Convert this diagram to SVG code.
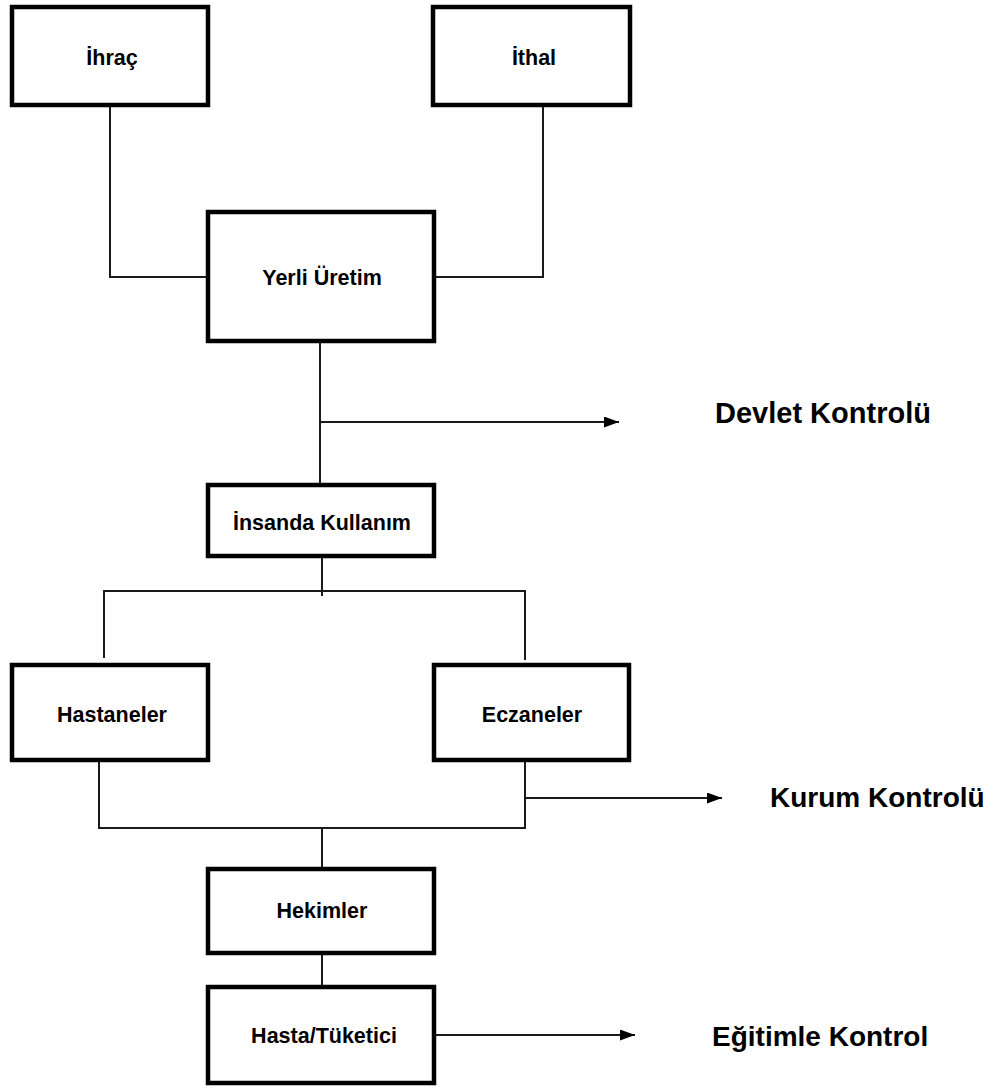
<svg xmlns="http://www.w3.org/2000/svg" width="1000" height="1088" viewBox="0 0 1000 1088">
<style>
.box{fill:#fff;stroke:#000;stroke-width:4.5}
.lbl{font-family:"Liberation Sans",Arial,sans-serif;font-weight:bold;font-size:21.5px;fill:#000;text-anchor:middle}
.side{font-family:"Liberation Sans",Arial,sans-serif;font-weight:bold;font-size:28px;fill:#000}
.ln{fill:none;stroke:#1a1a1a;stroke-width:2}
</style>
<defs>
<marker id="arr" viewBox="0 0 15 11" refX="15" refY="5.5" markerWidth="15" markerHeight="11" markerUnits="userSpaceOnUse" orient="auto">
<path d="M0,0 L15,5.5 L0,11 Z" fill="#000"/>
</marker>
</defs>
<rect width="1000" height="1088" fill="#fff"/>
<g id="connectors">
<polyline class="ln" points="110,107 110,277 206,277"/>
<polyline class="ln" points="543,107 543,277 436,277"/>
<line class="ln" x1="320" y1="343" x2="320" y2="490"/>
<line class="ln" x1="320" y1="422" x2="619" y2="422" marker-end="url(#arr)"/>
<line class="ln" x1="322" y1="558" x2="322" y2="596"/>
<polyline class="ln" points="104,658 104,591 525,591 525,660"/>
<polyline class="ln" points="99,762 99,828 525,828 525,762"/>
<line class="ln" x1="525" y1="798" x2="722" y2="798" marker-end="url(#arr)"/>
<line class="ln" x1="322" y1="828" x2="322" y2="867"/>
<line class="ln" x1="322" y1="955" x2="322" y2="992"/>
<line class="ln" x1="436" y1="1035" x2="635" y2="1035" marker-end="url(#arr)"/>
</g>
<g id="ihrac"><rect class="box" x="12" y="7" width="196" height="98"/><text class="lbl" x="112" y="65">İhraç</text></g>
<g id="ithal"><rect class="box" x="433" y="7" width="197" height="98"/><text class="lbl" x="534" y="65">İthal</text></g>
<g id="yerli-uretim"><rect class="box" x="208" y="212" width="226" height="129"/><text class="lbl" x="322" y="285">Yerli Üretim</text></g>
<g id="insanda-kullanim"><rect class="box" x="208" y="485" width="226" height="71"/><text class="lbl" x="322" y="530">İnsanda Kullanım</text></g>
<g id="hastaneler"><rect class="box" x="12" y="665" width="196" height="95"/><text class="lbl" x="112" y="722">Hastaneler</text></g>
<g id="eczaneler"><rect class="box" x="434" y="665" width="195" height="95"/><text class="lbl" x="532" y="722">Eczaneler</text></g>
<g id="hekimler"><rect class="box" x="208" y="869" width="226" height="84"/><text class="lbl" x="322" y="918">Hekimler</text></g>
<g id="hasta-tuketici"><rect class="box" x="208" y="987" width="226" height="96"/><text class="lbl" x="324" y="1043">Hasta/Tüketici</text></g>
<g id="devlet-kontrolu"><text class="side" x="715" y="423" style="font-size:29px">Devlet Kontrolü</text></g>
<g id="kurum-kontrolu"><text class="side" x="770" y="807">Kurum Kontrolü</text></g>
<g id="egitimle-kontrol"><text class="side" x="712" y="1046">Eğitimle Kontrol</text></g>
</svg>
